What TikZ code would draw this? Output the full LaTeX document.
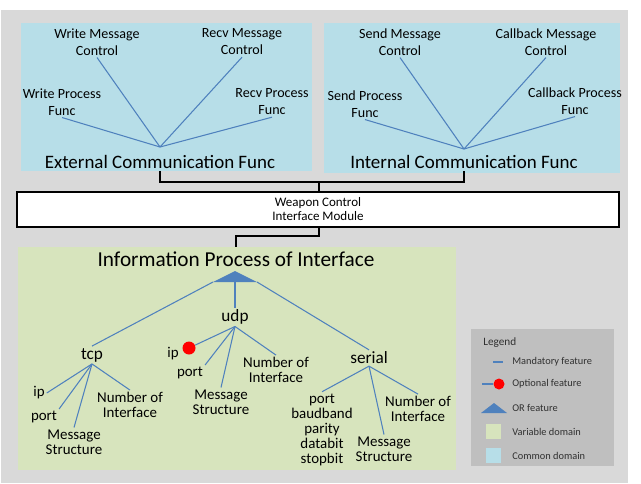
\documentclass[tikz,border=0pt]{standalone}
\usepackage{fontspec}
\setmainfont{Carlito}
\definecolor{bggray}{HTML}{D9D9D9}
\definecolor{commonblue}{HTML}{B7DEE8}
\definecolor{vargreen}{HTML}{D7E4BD}
\definecolor{leggray}{HTML}{BFBFBF}
\definecolor{featblue}{HTML}{4F81BD}
\definecolor{legtext}{HTML}{303030}
\tikzset{
  feat/.style={draw=featblue, line width=0.6pt},
  bus/.style={line width=1.5pt},
  lbl/.style={align=center, inner sep=1pt, font=\fontsize{8}{9.7}\selectfont},
  sub/.style={align=center, inner sep=1pt, font=\fontsize{8.5}{8.6}\selectfont},
  big/.style={inner sep=1pt, font=\fontsize{10.8}{12}\selectfont},
  mid/.style={inner sep=1pt, font=\fontsize{9.8}{11}\selectfont},
  wbox/.style={draw, line width=1.1pt, fill=white, align=center,
    minimum width=12.04cm, minimum height=0.7cm, inner sep=0pt,
    font=\fontsize{7.4}{8}\selectfont},
  optdot/.style={circle, fill=red, inner sep=0pt, minimum size=#1},
  leg/.style={anchor=west, inner sep=0pt, text=legtext, font=\fontsize{5.9}{7}\selectfont},
}
\begin{document}
\begin{tikzpicture}[x=0.02cm, y=-0.02cm]
\useasboundingbox (0,0) rectangle (641,483);
\fill[bggray] (1,10) rectangle (628,483);

% common domain (top)
\fill[commonblue] (21,23) rectangle (312,171);
\fill[commonblue] (324,23) rectangle (620,173);

\node[lbl] (wmc) at (97,42) {Write Message\\Control};
\node[lbl] (rmc) at (242,42) {Recv Message\\Control};
\node[lbl] (wpf) at (62,102) {Write Process\\Func};
\node[lbl] (rpf) at (272,102) {Recv Process\\Func};
\node[big] (ext) at (160,162) {External Communication Func};
\coordinate (exthub) at (160,147);
\draw[feat] (exthub) -- (wmc.south); \draw[feat] (exthub) -- (rmc.south);
\draw[feat] (exthub) -- (wpf.south); \draw[feat] (exthub) -- (rpf.south);

\node[lbl] (smc) at (400,42) {Send Message\\Control};
\node[lbl] (cmc) at (546,42) {Callback Message\\Control};
\node[lbl] (spf) at (365,104) {Send Process\\Func};
\node[lbl] (cpf) at (575,101) {Callback Process\\Func};
\node[big] (int) at (464,162) {Internal Communication Func};
\coordinate (inthub) at (464,149);
\draw[feat] (inthub) -- (smc.south); \draw[feat] (inthub) -- (cmc.south);
\draw[feat] (inthub) -- (spf.south); \draw[feat] (inthub) -- (cpf.south);

% module
\coordinate (bus) at (319,182);
\draw[bus] (ext.south) |- (bus) -| (int.south);
\node[wbox] (wcim) at (318,209.5) {Weapon Control\\Interface Module};
\draw[bus] (bus) -- (bus |- wcim.north);

% variable domain (bottom)
\fill[vargreen] (18,247) rectangle (456,470);
\coordinate (vtop) at (236,247);
\draw[bus] (bus |- wcim.south) -- ++(0,8) -| (vtop);
\node[big, font=\fontsize{12.1}{13}\selectfont] (info) at (236,259) {Information Process of Interface};
\coordinate (ortop) at (235,271);
\coordinate (orl) at (213,282); \coordinate (orm) at (235,282); \coordinate (orr) at (257,282);
\fill[featblue] (ortop) -- (orr) -- (orl) -- cycle;

\node[mid] (tcp) at (92,355) {tcp};
\node[mid] (udp) at (235,317) {udp};
\node[mid] (serial) at (369,358) {serial};
\draw[feat] (orl) -- (tcp.north);
\draw[feat] (orm) -- (udp.north);
\draw[feat] (orr) -- (serial.north);

\node[sub] (tip) at (39,393) {ip};
\node[sub] (tport) at (44,417) {port};
\node[sub] (tmsg) at (74,442) {Message\\Structure};
\node[sub] (tnum) at (130,405) {Number of\\Interface};
\draw[feat] (tcp.south) -- (tip.east); \draw[feat] (tcp.south) -- (tport.north east);
\draw[feat] (tcp.south) -- (tmsg.north); \draw[feat] (tcp.south) -- (tnum.north);

\node[optdot=0.26cm] (uipdot) at (189,348) {};
\node[sub] (uip) at (173,354) {ip};
\node[sub] (uport) at (190,373) {port};
\node[sub] (umsg) at (221,402) {Message\\Structure};
\node[sub] (unum) at (276,370) {Number of\\Interface};
\draw[feat] (udp.south) -- (uipdot); \draw[feat] (udp.south) -- (uport.north east);
\draw[feat] (udp.south) -- (umsg.north); \draw[feat] (udp.south) -- (unum.north);

\node[sub] (sport) at (322,430) {port\\baudband\\parity\\databit\\stopbit};
\node[sub] (smsg) at (384,449) {Message\\Structure};
\node[sub] (snum) at (418,409) {Number of\\Interface};
\draw[feat] (serial.south) -- (sport.north); \draw[feat] (serial.south) -- (smsg.north);
\draw[feat] (serial.south) -- (snum.north);

% legend
\fill[leggray] (471,329) rectangle (614,466);
\node[leg, font=\fontsize{6.4}{7}\selectfont] (legt) at (483,343) {Legend};
\coordinate (m1) at (493,362); \coordinate (m2) at (503,362);
\draw[feat] (m1) -- (m2);
\node[leg] (lmand) at (512,362) {Mandatory feature};
\coordinate (o1) at (482,384);
\node[optdot=0.22cm] (odot) at (499,384) {};
\draw[feat] (o1) -- (odot);
\node[leg] (lopt) at (512,384) {Optional feature};
\fill[featblue] (481,413) -- (494,403) -- (507,413) -- cycle;
\node[leg] (lor) at (512,408) {OR feature};
\fill[vargreen] (486,424) rectangle (501,439);
\node[leg] (lvar) at (512,432) {Variable domain};
\fill[commonblue] (486,448) rectangle (501,463);
\node[leg] (lcom) at (512,456) {Common domain};
\end{tikzpicture}
\end{document}
